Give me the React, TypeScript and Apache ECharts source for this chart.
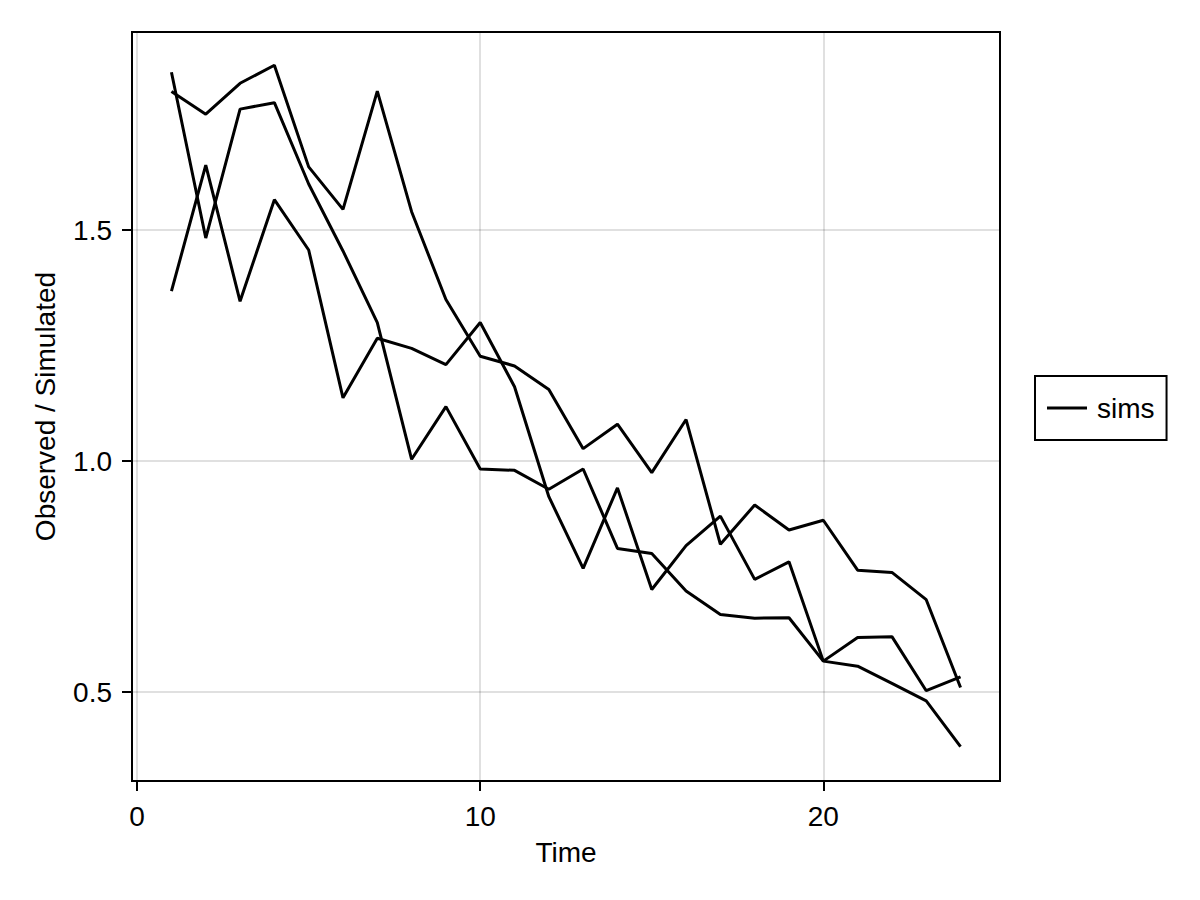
import React, { useEffect, useRef } from "react";
import * as echarts from "echarts";

const times = [1, 2, 3, 4, 5, 6, 7, 8, 9, 10, 11, 12, 13, 14, 15, 16, 17, 18, 19, 20, 21, 22, 23, 24];
const simA = [1.842, 1.483, 1.762, 1.776, 1.600, 1.455, 1.300, 1.004, 1.118, 0.983, 0.980, 0.939, 0.983, 0.811, 0.800, 0.719, 0.668, 0.660, 0.661, 0.567, 0.556, 0.519, 0.481, 0.382];
const simB = [1.800, 1.751, 1.818, 1.857, 1.637, 1.545, 1.801, 1.540, 1.350, 1.227, 1.206, 1.155, 1.027, 1.080, 0.975, 1.090, 0.820, 0.905, 0.851, 0.872, 0.764, 0.759, 0.700, 0.510];
const simC = [1.368, 1.641, 1.346, 1.566, 1.457, 1.137, 1.266, 1.244, 1.209, 1.300, 1.161, 0.923, 0.768, 0.942, 0.722, 0.817, 0.881, 0.744, 0.782, 0.567, 0.618, 0.620, 0.503, 0.533];
const xTicks = [0, 10, 20];
const yTicks = [0.5, 1.0, 1.5];
const seriesName = "sims";

const FONT = "Liberation Sans, Arial, Helvetica, sans-serif";

export default function App() {
  const ref = useRef<HTMLDivElement>(null);
  useEffect(() => {
    if (!ref.current) return;
    const chart = echarts.init(ref.current, undefined, { renderer: "svg" });
    const sims = [simA, simB, simC];
    chart.setOption({
      animation: false,
      backgroundColor: "#ffffff",
      textStyle: { fontFamily: FONT },
      grid: {
        left: 132,
        top: 32,
        width: 868,
        height: 749,
        show: true,
        borderColor: "#000",
        borderWidth: 2,
        containLabel: false,
        outerBoundsMode: "none",
      },
      legend: {
        data: [{ name: seriesName, icon: "rect" }],
        left: 1035,
        top: 376,
        orient: "vertical",
        padding: [18, 12, 18, 12],
        borderColor: "#000",
        borderWidth: 2,
        itemWidth: 40,
        itemHeight: 3,
        itemGap: 10,
        itemStyle: { color: "#000", borderWidth: 0 },
        textStyle: { fontSize: 28, color: "#000", fontFamily: FONT, padding: [0, 0, 0, 5], lineHeight: 28 },
        selectedMode: false,
      },
      xAxis: {
        type: "value",
        min: -0.15,
        max: 25.15,
        name: "Time",
        nameLocation: "middle",
        nameGap: 57,
        nameTextStyle: { fontSize: 28, color: "#000", fontFamily: FONT },
        axisLine: { show: true, onZero: false, lineStyle: { color: "#000", width: 2 } },
        axisTick: { show: true, length: 10, customValues: xTicks, lineStyle: { color: "#000", width: 2 } },
        axisLabel: { customValues: xTicks, fontSize: 28, color: "#000", margin: 21, fontFamily: FONT },
        splitLine: { show: true, customValues: xTicks, lineStyle: { color: "rgba(0,0,0,0.12)", width: 2 } },
      },
      yAxis: {
        type: "value",
        min: 0.3075,
        max: 1.929,
        name: "Observed / Simulated",
        nameLocation: "middle",
        nameGap: 73,
        nameTextStyle: { fontSize: 28, color: "#000", fontFamily: FONT },
        axisLine: { show: true, onZero: false, lineStyle: { color: "#000", width: 2 } },
        axisTick: { show: true, length: 10, customValues: yTicks, lineStyle: { color: "#000", width: 2 } },
        axisLabel: {
          customValues: yTicks,
          fontSize: 28,
          color: "#000",
          margin: 20,
          fontFamily: FONT,
          formatter: (v: number) => v.toFixed(1),
        },
        splitLine: { show: true, customValues: yTicks, lineStyle: { color: "rgba(0,0,0,0.12)", width: 2 } },
      },
      series: sims.map((s) => ({
        name: seriesName,
        type: "line",
        data: times.map((t, i) => [t, s[i]]),
        symbol: "none",
        lineStyle: { color: "#000", width: 3 },
        itemStyle: { color: "#000" },
        silent: true,
      })),
    });
    return () => chart.dispose();
  }, []);
  return <div ref={ref} style={{ position: "absolute", left: 0, top: 0, width: 1200, height: 900 }} />;
}
